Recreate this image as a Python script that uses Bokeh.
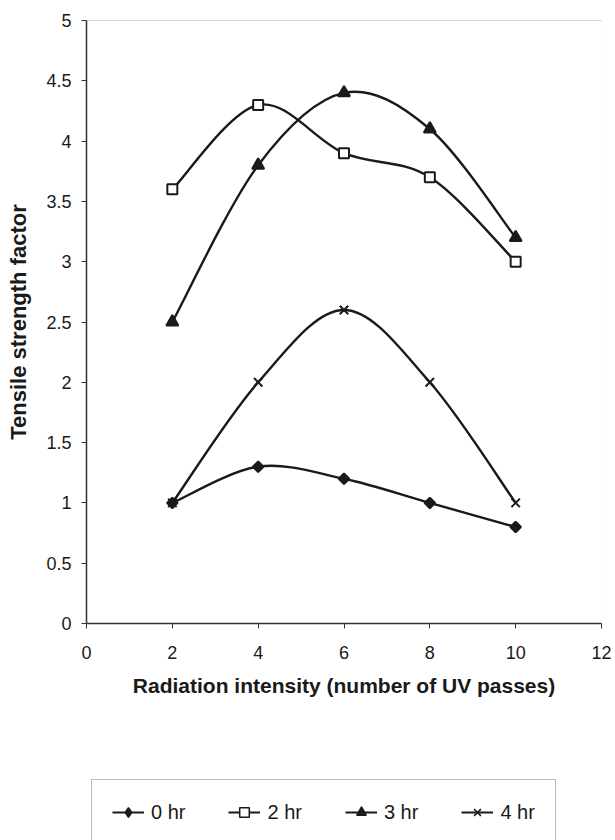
import math
from bokeh.plotting import figure
from bokeh.layouts import column
from bokeh.models import Legend, LegendItem, Span, ColumnDataSource
from bokeh.embed import file_html
from bokeh.resources import INLINE

# ---- data ----
passes = [2, 4, 6, 8, 10]
hr0 = [1.0, 1.3, 1.2, 1.0, 0.8]
hr2 = [3.6, 4.3, 3.9, 3.7, 3.0]
hr3 = [2.5, 3.8, 4.4, 4.1, 3.2]
hr4 = [1.0, 2.0, 2.6, 2.0, 1.0]
series_labels = ["0 hr", "2 hr", "3 hr", "4 hr"]
x_ticks = [0, 2, 4, 6, 8, 10, 12]
y_ticks = [0, 0.5, 1, 1.5, 2, 2.5, 3, 3.5, 4, 4.5, 5]
y_tick_labels = ["0", "0.5", "1", "1.5", "2", "2.5", "3", "3.5", "4", "4.5", "5"]
x_title = "Radiation intensity (number of UV passes)"
y_title = "Tensile strength factor"

FONT = "Liberation Sans"
INK = "#1a1a1a"


def smooth_segments(xs, ys):
    """Bezier control points (Catmull-Rom style smoothing) for a smoothed line."""
    n = len(xs)
    d = dict(x0=[], y0=[], x1=[], y1=[], cx0=[], cy0=[], cx1=[], cy1=[])
    for i in range(n - 1):
        a = i - 1 if i > 0 else i
        b = i + 2 if i + 2 < n else i + 1
        d["x0"].append(xs[i]); d["y0"].append(ys[i])
        d["x1"].append(xs[i + 1]); d["y1"].append(ys[i + 1])
        d["cx0"].append(xs[i] + (xs[i + 1] - xs[a]) / 6.0)
        d["cy0"].append(ys[i] + (ys[i + 1] - ys[a]) / 6.0)
        d["cx1"].append(xs[i + 1] - (xs[b] - xs[i]) / 6.0)
        d["cy1"].append(ys[i + 1] - (ys[b] - ys[i]) / 6.0)
    return ColumnDataSource(d)


p = figure(frame_width=515, frame_height=603, width=615, height=740,
           min_border_left=86, min_border_top=20, min_border_right=14,
           min_border_bottom=117,
           x_range=(0, 12), y_range=(0, 5),
           output_backend="svg", toolbar_location=None)

p.background_fill_color = "white"
p.border_fill_color = "white"
p.outline_line_color = None
p.grid.grid_line_color = None

# frame top / right borders (faint)
p.add_layout(Span(location=5, dimension="width", line_color="#9a9a9a",
                  line_width=1, line_dash="3 1"))
p.add_layout(Span(location=12, dimension="height", line_color="#e2e2e2",
                  line_width=1, line_dash="2 6"))

for ax in (p.xaxis[0], p.yaxis[0]):
    ax.axis_line_color = "#333333"
    ax.axis_line_width = 1.5
    ax.major_tick_line_color = "#333333"
    ax.major_tick_in = 0
    ax.major_tick_out = 5
    ax.minor_tick_line_color = None
    ax.major_label_text_font = FONT
    ax.major_label_text_font_size = "18px"
    ax.major_label_text_color = INK
    ax.axis_label_text_font = FONT
    ax.axis_label_text_font_style = "bold"
    ax.axis_label_text_color = INK

p.xaxis.axis_label_text_font_size = "21px"
p.yaxis.axis_label_text_font_size = "22px"
p.xaxis.ticker = x_ticks
p.yaxis.ticker = y_ticks
p.yaxis.major_label_overrides = {t: s for t, s in zip(y_ticks, y_tick_labels)}
p.xaxis.axis_label = x_title
p.yaxis.axis_label = y_title
p.xaxis.major_label_standoff = 17
p.xaxis.axis_label_standoff = 12
p.yaxis.major_label_standoff = 10
p.yaxis.axis_label_standoff = 12

markers = [
    dict(marker="square", size=7.5, angle=math.pi / 4, fill_color=INK, legend_marker="diamond"),
    dict(marker="square", size=10, angle=0, fill_color="white", legend_marker="square"),
    dict(marker="triangle", size=12, angle=0, fill_color=INK, legend_marker="triangle"),
    dict(marker="x", size=12, angle=0, fill_color=None, legend_marker="x"),
]

# legend strip below the chart; its renderers use the same data but lie
# outside this strip's ranges, so only the legend swatches are visible
p2 = figure(width=615, height=100, x_range=(100, 101), y_range=(100, 101),
            x_axis_location=None, y_axis_location=None,
            min_border_left=0, min_border_right=0, min_border_top=0,
            min_border_bottom=0, output_backend="svg", toolbar_location=None)
p2.grid.grid_line_color = None
p2.outline_line_color = None
p2.background_fill_color = "white"
p2.border_fill_color = "white"

items = []
for ys, lab, mk in zip([hr0, hr2, hr3, hr4], series_labels, markers):
    src = smooth_segments(passes, ys)
    p.bezier(x0="x0", y0="y0", x1="x1", y1="y1", cx0="cx0", cy0="cy0",
             cx1="cx1", cy1="cy1", source=src, line_color=INK, line_width=2.4)
    p.scatter(passes, ys, marker=mk["marker"], size=mk["size"], angle=mk["angle"],
              fill_color=mk["fill_color"], line_color=INK, line_width=2)
    lr = p2.line(passes, ys, line_color=INK, line_width=2)
    sr = p2.scatter(passes, ys, marker=mk["legend_marker"], size=mk["size"],
                    fill_color=mk["fill_color"], line_color=INK, line_width=1.5)
    items.append(LegendItem(label=lab, renderers=[lr, sr]))

legend = Legend(items=items, orientation="horizontal", location=(5, -5),
                padding=20, spacing=43, glyph_width=32, glyph_height=24,
                label_height=24,
                label_standoff=7, label_text_font=FONT, label_text_font_size="20px",
                label_text_color=INK, border_line_color="#777777",
                border_line_width=1, background_fill_color="white",
                background_fill_alpha=1.0, margin=0)
p2.add_layout(legend)

layout = column(p, p2, spacing=0)
open("out.html", "w").write(file_html(layout, INLINE))
